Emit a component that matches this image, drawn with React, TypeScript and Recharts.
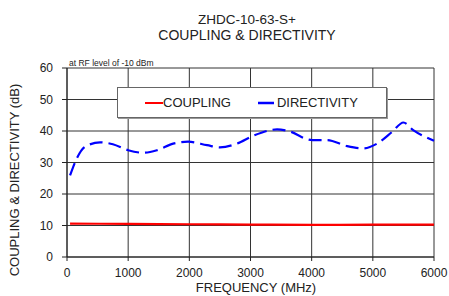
import { LineChart, Line, XAxis, YAxis, CartesianGrid, Legend } from "recharts";

const freqTicks = [0, 1000, 2000, 3000, 4000, 5000, 6000];
const dbTicks = [0, 10, 20, 30, 40, 50, 60];

const directivityFreq = [50, 160, 295, 540, 750, 1000, 1245, 1470, 1735, 1980, 2290, 2500, 2780, 3045, 3435, 3600, 4010, 4250, 4580, 4845, 5070, 5320, 5500, 5660, 6000];
const directivityDb = [25.9, 31.3, 35, 36.4, 35.8, 33.9, 33.1, 33.9, 36, 36.6, 35.5, 34.8, 36, 38.5, 40.5, 40.1, 37.1, 37.1, 35.2, 34.5, 36, 39.8, 42.7, 40.3, 36.9];

const couplingFreq = [50, 1000, 2000, 3000, 4000, 5000, 6000];
const couplingDb = [10.6, 10.5, 10.4, 10.3, 10.2, 10.25, 10.3];

const directivityData = directivityFreq.map((f, i) => ({ freq: f, db: directivityDb[i] }));
const couplingData = couplingFreq.map((f, i) => ({ freq: f, db: couplingDb[i] }));

const font = "'Liberation Sans', Arial, sans-serif";

function LegendBox() {
  return (
    <div
      style={{
        width: 268,
        height: 29,
        border: "1px solid #666",
        background: "#fff",
        boxShadow: "1px 1px 0 #999",
        display: "flex",
        alignItems: "center",
        fontFamily: font,
        fontSize: 13,
        color: "#222",
      }}
    >
      <svg width={18} height={4} style={{ marginLeft: 27 }}>
        <line x1={0} y1={2} x2={18} y2={2} stroke="#ff0000" strokeWidth={2} />
      </svg>
      <span>COUPLING</span>
      <svg width={16} height={4} style={{ marginLeft: 27, marginRight: 3 }}>
        <line x1={0} y1={2} x2={16} y2={2} stroke="#0000ff" strokeWidth={2.5} />
      </svg>
      <span>DIRECTIVITY</span>
    </div>
  );
}

export default function App() {
  return (
    <div style={{ position: "absolute", left: 0, top: 0, width: 449, height: 296, background: "#fff" }}>
      <LineChart width={449} height={296} margin={{ top: 68, right: 15, left: 0, bottom: 0 }} style={{ fontFamily: font }}>
        <CartesianGrid stroke="#333" strokeWidth={1} />
        <XAxis
          type="number"
          dataKey="freq"
          domain={[0, 6000]}
          ticks={freqTicks}
          height={39}
          tickSize={4}
          tickMargin={7}
          stroke="#222"
          tick={{ fill: "#222", fontSize: 12 }}
          allowDuplicatedCategory={false}
        />
        <YAxis
          type="number"
          domain={[0, 60]}
          ticks={dbTicks}
          width={67}
          tickSize={5}
          tickMargin={9}
          stroke="#222"
          tick={{ fill: "#222", fontSize: 12 }}
        />
        <Legend
          layout="vertical"
          align="center"
          verticalAlign="middle"
          wrapperStyle={{ left: 117, top: 87, width: 270 }}
          content={() => <LegendBox />}
        />
        <Line
          data={couplingData}
          dataKey="db"
          type="monotone"
          stroke="#ff0000"
          strokeWidth={2.2}
          dot={false}
          isAnimationActive={false}
        />
        <Line
          data={directivityData}
          dataKey="db"
          type="monotone"
          stroke="#0000ff"
          strokeWidth={2.2}
          strokeDasharray="13 6"
          dot={false}
          isAnimationActive={false}
        />
        <text x={247} y={24} textAnchor="middle" fontSize={13.5} fill="#222">ZHDC-10-63-S+</text>
        <text x={247} y={40} textAnchor="middle" fontSize={14} fill="#222">COUPLING &amp; DIRECTIVITY</text>
        <text x={69} y={66} fontSize={8.5} fill="#222">at RF level of -10 dBm</text>
        <text x={19} y={180} textAnchor="middle" fontSize={13} fill="#222" transform="rotate(-90 19 180)">COUPLING &amp; DIRECTIVITY (dB)</text>
        <text x={256} y={292} textAnchor="middle" fontSize={13} fill="#222">FREQUENCY (MHz)</text>
      </LineChart>
    </div>
  );
}
